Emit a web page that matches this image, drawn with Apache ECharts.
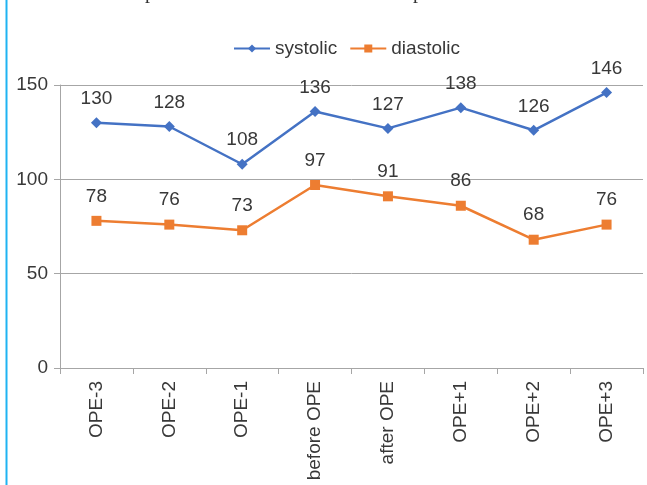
<!DOCTYPE html>
<html>
<head>
<meta charset="utf-8">
<script src="https://cdn.jsdelivr.net/npm/echarts@6/dist/echarts.min.js"></script>
<style>
  html, body { margin: 0; padding: 0; background: #fff; }
  #chart { width: 647px; height: 485px; }
</style>
</head>
<body>
<div id="chart"></div>
<script>
// 数据
var categories = ['OPE-3', 'OPE-2', 'OPE-1', 'before OPE', 'after OPE', 'OPE+1', 'OPE+2', 'OPE+3'];
var systolic = [130, 128, 108, 136, 127, 138, 126, 146];
var diastolic = [78, 76, 73, 97, 91, 86, 68, 76];
var yTicks = [0, 50, 100, 150];

var textColor = '#383838';
var gridColor = '#a6a6a6';
var font = 'Arial, "Liberation Sans", sans-serif';

var chart = echarts.init(document.getElementById('chart'));
var option = {
  animation: false,
  backgroundColor: '#fff',
  graphic: [{
    type: 'line',
    shape: { x1: 6.5, y1: 0, x2: 6.5, y2: 485 },
    style: { stroke: '#1fb3f2', lineWidth: 2 }
  }, {
    type: 'text', left: 145, top: -17,
    style: { text: 'p', font: '20px "Liberation Serif", serif', fill: '#333' }
  }, {
    type: 'text', left: 413, top: -17,
    style: { text: 'p', font: '20px "Liberation Serif", serif', fill: '#333' }
  }],
  legend: {
    top: 34,
    left: 228,
    itemWidth: 36,
    itemHeight: 10,
    itemGap: 12,
    textStyle: { color: textColor, fontSize: 19, fontFamily: font },
    data: ['systolic', 'diastolic']
  },
  grid: { left: 60, right: 4, top: 85, bottom: 117, containLabel: false },
  xAxis: {
    type: 'category',
    data: categories,
    axisLine: { lineStyle: { color: gridColor, width: 1 } },
    axisTick: { show: true, length: 6, lineStyle: { color: gridColor } },
    axisLabel: { rotate: 90, margin: 13, color: textColor, fontSize: 19, fontFamily: font }
  },
  yAxis: {
    type: 'value',
    min: yTicks[0],
    max: yTicks[yTicks.length - 1],
    interval: 50,
    axisLine: { show: true, lineStyle: { color: gridColor, width: 1 } },
    axisTick: { show: true, length: 6, lineStyle: { color: gridColor } },
    splitLine: { show: true, lineStyle: { color: gridColor, width: 1 } },
    axisLabel: { margin: 12, color: textColor, fontSize: 19, fontFamily: font }
  },
  series: [{
    name: 'systolic',
    type: 'line',
    data: systolic,
    symbol: 'diamond',
    symbolSize: 11,
    color: '#4472c4',
    lineStyle: { width: 2.5, color: '#4472c4' },
    label: { show: true, position: 'top', distance: 9, color: textColor, fontSize: 19, fontFamily: font }
  }, {
    name: 'diastolic',
    type: 'line',
    data: diastolic,
    symbol: 'rect',
    symbolSize: 10,
    color: '#ed7d31',
    lineStyle: { width: 2.5, color: '#ed7d31' },
    label: { show: true, position: 'top', distance: 10, color: textColor, fontSize: 19, fontFamily: font }
  }]
};
chart.setOption(option);
</script>
</body>
</html>
